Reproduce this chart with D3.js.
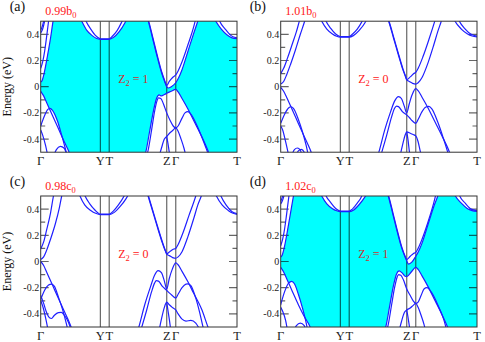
<!DOCTYPE html>
<html><head><meta charset="utf-8">
<script src="https://cdn.jsdelivr.net/npm/d3@7"></script>
<style>body{margin:0;background:#fff}svg{display:block}svg text{font-family:"Liberation Serif","DejaVu Serif",serif}</style>
</head><body><svg id="c" width="485" height="342"></svg>
<script>
// ---------- data ----------
const kTicks = [0, 0.304, 0.349, 0.642, 0.688, 1];
const kLabels = ["Γ", "Y", "T", "Z", "Γ", "T"];
const eTicksMajor = [-0.4, -0.2, 0, 0.2, 0.4];
const eTickLabels = ["-0.4", "-0.2", "0", "0.2", "0.4"];
const eTicksMinor = [-0.3, -0.1, 0.1, 0.3];
const panelLetters = ["(a)", "(b)", "(c)", "(d)"];
const strainBase = ["0.99b", "1.01b", "0.98c", "1.02c"];
const z2Values = ["1", "0", "0", "1"];

// panel (a) 0.99 b0
const aCB = [
  [[0,0.035],[0.008,0.05],[0.02,0.12],[0.035,0.24],[0.05,0.37],[0.063,0.5],[0.07,0.56]],
  [[0,0.14],[0.01,0.19],[0.02,0.27],[0.03,0.38],[0.04,0.5],[0.045,0.56]],
  [[0,0.41],[0.01,0.44],[0.02,0.5],[0.025,0.54]],
  [[0,0.43],[0.008,0.46],[0.015,0.5],[0.02,0.54]],
  [[0.19,0.56],[0.209,0.5],[0.235,0.43],[0.262,0.39],[0.285,0.368],[0.304,0.362],[0.349,0.362],[0.37,0.375],[0.40,0.42],[0.43,0.49],[0.44,0.52]],
  [[0.215,0.56],[0.231,0.5],[0.255,0.44],[0.28,0.39],[0.304,0.366],[0.349,0.366],[0.365,0.385],[0.39,0.43],[0.415,0.5],[0.425,0.53]],
  [[0.535,0.56],[0.548,0.5],[0.57,0.37],[0.595,0.22],[0.615,0.11],[0.63,0.045],[0.642,0.0],[0.65,-0.01],[0.665,0.0],[0.688,0.03],[0.70,0.06],[0.72,0.13],[0.75,0.27],[0.78,0.41],[0.80,0.5],[0.81,0.55]],
  [[0.537,0.56],[0.55,0.5],[0.572,0.37],[0.597,0.22],[0.617,0.11],[0.632,0.045],[0.642,0.01],[0.655,0.04],[0.672,0.07],[0.688,0.09],[0.70,0.12],[0.72,0.19],[0.75,0.32],[0.78,0.46],[0.79,0.52]],
  [[0.875,0.55],[0.892,0.5],[0.92,0.44],[0.95,0.395],[0.975,0.373],[1.0,0.366]],
  [[0.9,0.55],[0.912,0.5],[0.94,0.44],[0.97,0.39],[1.0,0.372]]
];
const aVB = [
  [[0,-0.035],[0.015,-0.07],[0.03,-0.12],[0.06,-0.22],[0.09,-0.32],[0.12,-0.42],[0.145,-0.5],[0.155,-0.54]],
  [[0,-0.30],[0.02,-0.22],[0.035,-0.175],[0.047,-0.165],[0.06,-0.18],[0.085,-0.26],[0.105,-0.36],[0.125,-0.47],[0.135,-0.53]],
  [[0,-0.33],[0.01,-0.37],[0.025,-0.45],[0.035,-0.52]],
  [[0.065,-0.53],[0.08,-0.48],[0.1,-0.455],[0.12,-0.47],[0.135,-0.53]],
  [[0.52,-0.55],[0.535,-0.5],[0.555,-0.34],[0.575,-0.18],[0.59,-0.09],[0.603,-0.063],[0.615,-0.07],[0.63,-0.06],[0.642,-0.05],[0.665,-0.035],[0.688,-0.02],[0.70,-0.04],[0.72,-0.09],[0.75,-0.17],[0.78,-0.26],[0.82,-0.38],[0.855,-0.5],[0.865,-0.54]],
  [[0.53,-0.55],[0.545,-0.5],[0.565,-0.33],[0.58,-0.19],[0.592,-0.11],[0.60,-0.085],[0.612,-0.09],[0.625,-0.13],[0.642,-0.2],[0.66,-0.26],[0.675,-0.3],[0.688,-0.315],[0.70,-0.30],[0.72,-0.24],[0.735,-0.2],[0.75,-0.19],[0.77,-0.22],[0.80,-0.31],[0.83,-0.42],[0.85,-0.5],[0.86,-0.54]],
  [[0.60,-0.55],[0.615,-0.47],[0.63,-0.40],[0.642,-0.38],[0.66,-0.35],[0.675,-0.33],[0.688,-0.315],[0.70,-0.34],[0.715,-0.4],[0.73,-0.47],[0.74,-0.53]],
  [[0.642,-0.38],[0.648,-0.43],[0.655,-0.5],[0.66,-0.54]]
];

// panel (b) 1.01 b0
const bCB = [
  [[0,0.02],[0.015,0.04],[0.03,0.09],[0.05,0.17],[0.075,0.28],[0.10,0.40],[0.122,0.5],[0.13,0.54]],
  [[0,0.10],[0.015,0.14],[0.035,0.22],[0.06,0.33],[0.08,0.42],[0.095,0.5],[0.105,0.55]],
  [[0.19,0.56],[0.209,0.5],[0.235,0.44],[0.262,0.405],[0.285,0.385],[0.304,0.378],[0.349,0.378],[0.37,0.39],[0.40,0.43],[0.43,0.49],[0.44,0.52]],
  [[0.215,0.56],[0.231,0.5],[0.255,0.445],[0.28,0.402],[0.304,0.383],[0.349,0.383],[0.365,0.40],[0.39,0.44],[0.415,0.5],[0.425,0.53]],
  [[0.535,0.56],[0.55,0.5],[0.575,0.37],[0.60,0.24],[0.62,0.14],[0.635,0.08],[0.642,0.055],[0.66,0.075],[0.678,0.10],[0.688,0.11],[0.70,0.14],[0.725,0.23],[0.755,0.36],[0.785,0.5],[0.795,0.55]],
  [[0.537,0.56],[0.552,0.5],[0.577,0.37],[0.602,0.24],[0.622,0.14],[0.636,0.08],[0.642,0.052],[0.655,0.04],[0.672,0.025],[0.688,0.02],[0.70,0.03],[0.72,0.07],[0.75,0.18],[0.78,0.32],[0.80,0.42],[0.818,0.5],[0.83,0.56]],
  [[0.875,0.54],[0.888,0.5],[0.92,0.44],[0.95,0.405],[0.975,0.387],[1.0,0.38]],
  [[0.898,0.54],[0.91,0.5],[0.94,0.44],[0.97,0.40],[1.0,0.386]]
];
const bVB = [
  [[0,-0.005],[0.015,-0.035],[0.03,-0.08],[0.06,-0.18],[0.09,-0.28],[0.12,-0.38],[0.15,-0.48],[0.16,-0.52]],
  [[0,-0.28],[0.02,-0.21],[0.04,-0.163],[0.052,-0.153],[0.065,-0.165],[0.09,-0.25],[0.11,-0.34],[0.13,-0.45],[0.14,-0.52]],
  [[0,-0.30],[0.01,-0.33],[0.025,-0.42],[0.04,-0.52]],
  [[0.055,-0.53],[0.07,-0.48],[0.085,-0.468],[0.1,-0.485],[0.11,-0.53]],
  [[0.075,-0.53],[0.09,-0.49],[0.105,-0.478],[0.12,-0.5],[0.128,-0.53]],
  [[0.49,-0.55],[0.50,-0.5],[0.53,-0.33],[0.56,-0.19],[0.58,-0.11],[0.60,-0.075],[0.615,-0.09],[0.63,-0.15],[0.642,-0.2],[0.655,-0.13],[0.67,-0.06],[0.688,-0.015],[0.70,-0.03],[0.72,-0.08],[0.75,-0.16],[0.78,-0.25],[0.82,-0.37],[0.86,-0.5],[0.87,-0.54]],
  [[0.505,-0.55],[0.515,-0.5],[0.54,-0.37],[0.565,-0.23],[0.58,-0.165],[0.59,-0.148],[0.60,-0.152],[0.62,-0.19],[0.642,-0.215],[0.655,-0.235],[0.67,-0.26],[0.688,-0.28],[0.70,-0.25],[0.72,-0.19],[0.74,-0.155],[0.755,-0.15],[0.77,-0.17],[0.80,-0.27],[0.83,-0.40],[0.855,-0.52]],
  [[0.605,-0.55],[0.62,-0.45],[0.635,-0.365],[0.642,-0.345],[0.66,-0.355],[0.675,-0.365],[0.688,-0.375],[0.70,-0.42],[0.712,-0.5],[0.72,-0.54]],
  [[0.642,-0.345],[0.648,-0.40],[0.656,-0.5],[0.66,-0.54]]
];

// panel (c) 0.98 c0
const cCB = [
  [[0,0.015],[0.015,0.035],[0.03,0.085],[0.05,0.17],[0.075,0.29],[0.095,0.41],[0.107,0.5],[0.115,0.55]],
  [[0,0.095],[0.015,0.15],[0.03,0.24],[0.05,0.37],[0.065,0.5],[0.072,0.55]],
  [[0.185,0.56],[0.2,0.5],[0.225,0.43],[0.255,0.39],[0.28,0.368],[0.304,0.358],[0.349,0.358],[0.375,0.375],[0.405,0.42],[0.435,0.48],[0.45,0.52]],
  [[0.21,0.56],[0.226,0.5],[0.25,0.44],[0.275,0.395],[0.304,0.362],[0.349,0.362],[0.37,0.385],[0.395,0.43],[0.425,0.5],[0.435,0.53]],
  [[0.535,0.56],[0.547,0.5],[0.575,0.36],[0.60,0.235],[0.62,0.14],[0.635,0.08],[0.642,0.06],[0.66,0.078],[0.678,0.095],[0.688,0.10],[0.70,0.13],[0.725,0.22],[0.755,0.35],[0.79,0.5],[0.80,0.55]],
  [[0.537,0.56],[0.549,0.5],[0.577,0.36],[0.602,0.235],[0.622,0.14],[0.636,0.08],[0.642,0.056],[0.655,0.045],[0.672,0.03],[0.688,0.025],[0.70,0.035],[0.72,0.075],[0.75,0.19],[0.78,0.33],[0.80,0.43],[0.818,0.5],[0.83,0.56]],
  [[0.88,0.55],[0.895,0.5],[0.925,0.43],[0.955,0.39],[0.98,0.368],[1.0,0.36]],
  [[0.905,0.55],[0.918,0.5],[0.945,0.43],[0.975,0.38],[1.0,0.366]]
];
const cVB = [
  [[0,0.0],[0.015,-0.03],[0.03,-0.08],[0.06,-0.18],[0.09,-0.28],[0.12,-0.38],[0.15,-0.48],[0.16,-0.52]],
  [[0,-0.29],[0.02,-0.22],[0.04,-0.18],[0.055,-0.172],[0.07,-0.19],[0.09,-0.27],[0.11,-0.36],[0.13,-0.47],[0.138,-0.52]],
  [[0,-0.26],[0.015,-0.32],[0.03,-0.39],[0.045,-0.43],[0.055,-0.435],[0.07,-0.41],[0.09,-0.39],[0.105,-0.388],[0.12,-0.41],[0.14,-0.46],[0.155,-0.52]],
  [[0,-0.30],[0.01,-0.34],[0.025,-0.43],[0.037,-0.52]],
  [[0.49,-0.55],[0.50,-0.5],[0.53,-0.33],[0.56,-0.19],[0.58,-0.105],[0.598,-0.069],[0.615,-0.085],[0.63,-0.15],[0.642,-0.21],[0.655,-0.13],[0.67,-0.06],[0.688,-0.011],[0.70,-0.025],[0.72,-0.075],[0.75,-0.155],[0.78,-0.245],[0.82,-0.365],[0.852,-0.5],[0.862,-0.54]],
  [[0.505,-0.55],[0.515,-0.5],[0.54,-0.37],[0.565,-0.23],[0.58,-0.165],[0.589,-0.146],[0.60,-0.15],[0.62,-0.19],[0.642,-0.22],[0.655,-0.24],[0.67,-0.26],[0.688,-0.28],[0.70,-0.25],[0.72,-0.2],[0.74,-0.173],[0.75,-0.171],[0.765,-0.185],[0.79,-0.28],[0.81,-0.39],[0.827,-0.5],[0.835,-0.54]],
  [[0.60,-0.55],[0.615,-0.44],[0.63,-0.35],[0.642,-0.31],[0.655,-0.33],[0.67,-0.35],[0.688,-0.37],[0.70,-0.40],[0.72,-0.44],[0.74,-0.455],[0.765,-0.45],[0.79,-0.47],[0.81,-0.52]],
  [[0.642,-0.31],[0.648,-0.37],[0.656,-0.45],[0.663,-0.53]]
];

// panel (d) 1.02 c0
const dCB = [
  [[0,0.035],[0.008,0.05],[0.02,0.12],[0.035,0.24],[0.05,0.37],[0.065,0.5],[0.072,0.56]],
  [[0,0.12],[0.01,0.17],[0.02,0.25],[0.03,0.36],[0.042,0.5],[0.048,0.56]],
  [[0,0.44],[0.01,0.47],[0.02,0.52]],
  [[0,0.46],[0.008,0.49],[0.015,0.53]],
  [[0.19,0.56],[0.209,0.5],[0.235,0.44],[0.262,0.405],[0.285,0.387],[0.304,0.38],[0.349,0.38],[0.37,0.392],[0.40,0.435],[0.43,0.495],[0.44,0.52]],
  [[0.215,0.56],[0.231,0.5],[0.255,0.45],[0.28,0.405],[0.304,0.385],[0.349,0.385],[0.365,0.40],[0.39,0.445],[0.413,0.5],[0.42,0.53]],
  [[0.535,0.56],[0.548,0.5],[0.57,0.37],[0.595,0.22],[0.615,0.11],[0.632,0.04],[0.642,0.005],[0.652,-0.02],[0.668,-0.005],[0.688,0.04],[0.70,0.07],[0.72,0.14],[0.75,0.28],[0.78,0.42],[0.80,0.5],[0.81,0.55]],
  [[0.537,0.56],[0.55,0.5],[0.572,0.37],[0.597,0.22],[0.617,0.11],[0.634,0.04],[0.642,0.015],[0.66,0.04],[0.675,0.06],[0.688,0.07],[0.70,0.10],[0.72,0.17],[0.75,0.30],[0.78,0.45],[0.792,0.52]],
  [[0.875,0.55],[0.89,0.5],[0.92,0.445],[0.95,0.405],[0.975,0.388],[1.0,0.382]],
  [[0.9,0.55],[0.912,0.5],[0.94,0.445],[0.97,0.40],[1.0,0.388]]
];
const dVB = [
  [[0,-0.045],[0.015,-0.08],[0.03,-0.13],[0.06,-0.23],[0.09,-0.33],[0.12,-0.42],[0.15,-0.5],[0.16,-0.54]],
  [[0,-0.33],[0.02,-0.23],[0.04,-0.165],[0.056,-0.152],[0.07,-0.17],[0.09,-0.25],[0.11,-0.35],[0.13,-0.47],[0.138,-0.53]],
  [[0,-0.35],[0.01,-0.38],[0.025,-0.45],[0.035,-0.53]],
  [[0.065,-0.53],[0.08,-0.49],[0.1,-0.47],[0.12,-0.49],[0.13,-0.53]],
  [[0.52,-0.55],[0.535,-0.5],[0.555,-0.34],[0.575,-0.18],[0.59,-0.095],[0.603,-0.072],[0.617,-0.085],[0.632,-0.11],[0.642,-0.115],[0.665,-0.08],[0.688,-0.045],[0.70,-0.06],[0.72,-0.11],[0.75,-0.19],[0.78,-0.28],[0.82,-0.40],[0.85,-0.5],[0.86,-0.54]],
  [[0.53,-0.55],[0.545,-0.5],[0.565,-0.33],[0.58,-0.2],[0.593,-0.12],[0.60,-0.1],[0.612,-0.105],[0.625,-0.14],[0.642,-0.21],[0.66,-0.26],[0.675,-0.3],[0.688,-0.32],[0.70,-0.31],[0.715,-0.26],[0.73,-0.21],[0.745,-0.2],[0.77,-0.24],[0.80,-0.33],[0.83,-0.44],[0.845,-0.52]],
  [[0.60,-0.55],[0.615,-0.46],[0.63,-0.39],[0.642,-0.37],[0.66,-0.355],[0.675,-0.335],[0.688,-0.32],[0.70,-0.35],[0.715,-0.41],[0.73,-0.48],[0.738,-0.53]],
  [[0.642,-0.37],[0.648,-0.42],[0.656,-0.5],[0.66,-0.54]]
];

const panelCB = [aCB, bCB, cCB, dCB];
const panelVB = [aVB, bVB, cVB, dVB];

// ---------- layout ----------
const W = 196.3, H = 131;
const origins = [[40.7, 21.2], [280.7, 21.2], [40.7, 196.0], [280.7, 196.0]];
const svg = d3.select("#c");
svg.append("rect").attr("width", 485).attr("height", 342).attr("fill", "#fff");

function interp(band, k) {
  if (k < band[0][0] || k > band[band.length - 1][0]) return null;
  for (let i = 1; i < band.length; i++) {
    if (k <= band[i][0]) {
      const [k0, e0] = band[i - 1], [k1, e1] = band[i];
      return e0 + (e1 - e0) * (k - k0) / (k1 - k0);
    }
  }
  return band[band.length - 1][1];
}

origins.forEach((o, p) => {
  const x = d3.scaleLinear().domain([0, 1]).range([0, W]);
  const y = d3.scaleLinear().domain([-0.5, 0.5]).range([H, 0]);
  const g = svg.append("g").attr("transform", `translate(${o[0]},${o[1]})`);
  const clipId = "clip" + p;
  g.append("clipPath").attr("id", clipId).append("rect").attr("width", W).attr("height", H);
  const inner = g.append("g").attr("clip-path", `url(#${clipId})`);

  const inverted = z2Values[p] === "1";
  if (inverted) {
    const env = [];
    for (let i = 0; i <= 1000; i++) {
      const k = i / 1000;
      let top = 0.7, bot = -0.7;
      panelCB[p].forEach(b => { const v = interp(b, k); if (v !== null && v < top) top = v; });
      panelVB[p].forEach(b => { const v = interp(b, k); if (v !== null && v > bot) bot = v; });
      env.push([k, bot, top]);
    }
    inner.append("path").datum(env)
      .attr("d", d3.area().x(d => x(d[0])).y0(d => y(d[1])).y1(d => y(d[2])))
      .attr("fill", "#00ffff");
  }

  inner.selectAll("line.v").data(kTicks.slice(1, -1)).join("line")
    .attr("x1", d => x(d)).attr("x2", d => x(d)).attr("y1", 0).attr("y2", H)
    .attr("stroke", "#000").attr("stroke-opacity", 0.6).attr("stroke-width", 1.2);

  const ticks = eTicksMajor.map(e => [e, 8]).concat(eTicksMinor.map(e => [e, 4.5]));
  ticks.forEach(([e, len]) => {
    inner.append("line").attr("x1", 0).attr("x2", len).attr("y1", y(e)).attr("y2", y(e))
      .attr("stroke", "#000").attr("stroke-opacity", 0.6).attr("stroke-width", 1.2);
    inner.append("line").attr("x1", W - len).attr("x2", W).attr("y1", y(e)).attr("y2", y(e))
      .attr("stroke", "#000").attr("stroke-opacity", 0.6).attr("stroke-width", 1.2);
  });

  const line = d3.line().x(d => x(d[0])).y(d => y(d[1])).curve(d3.curveMonotoneX);
  inner.selectAll("path.band").data(panelCB[p].concat(panelVB[p])).join("path")
    .attr("class", "band").attr("d", line)
    .attr("fill", "none").attr("stroke", "#1f1fff").attr("stroke-width", 1.2);

  g.append("rect").attr("width", W).attr("height", H)
    .attr("fill", "none").attr("stroke", "#333").attr("stroke-width", 1);

  g.selectAll("text.yt").data(eTicksMajor).join("text")
    .attr("x", -1.5).attr("y", d => y(d) + 3.5)
    .attr("text-anchor", "end").attr("font-size", 10)
    .attr("fill", "#222").text((d, i) => eTickLabels[i]);

  g.selectAll("text.xt").data(kTicks).join("text")
    .attr("x", d => x(d)).attr("y", H + 12.5)
    .attr("text-anchor", "middle").attr("font-size", 12.5)
    .attr("fill", "#222").text((d, i) => kLabels[i]);

  g.append("text").attr("x", -31).attr("y", -10)
    .attr("font-size", 14).attr("fill", "#111").text(panelLetters[p]);

  const st = g.append("text").attr("x", 4.5).attr("y", -6.5)
    .attr("font-size", 12).attr("fill", "#ff2020");
  st.append("tspan").text(strainBase[p]);
  st.append("tspan").attr("font-size", 8.5).attr("dy", 3).text("0");

  const zt = g.append("text").attr("x", 77.5).attr("y", y(0) - 4)
    .attr("font-size", 12).attr("fill", inverted ? "#cc3030" : "#ff2020");
  zt.append("tspan").text("Z");
  zt.append("tspan").attr("font-size", 8.5).attr("dy", 3).text("2");
  zt.append("tspan").attr("dy", -3).text(" = " + z2Values[p]);

  if (p % 2 === 0) {
    g.append("text").attr("transform", `translate(${-30},${H / 2}) rotate(-90)`)
      .attr("text-anchor", "middle").attr("font-size", 12)
      .attr("fill", "#111").text("Energy (eV)");
  }
});
</script></body></html>
